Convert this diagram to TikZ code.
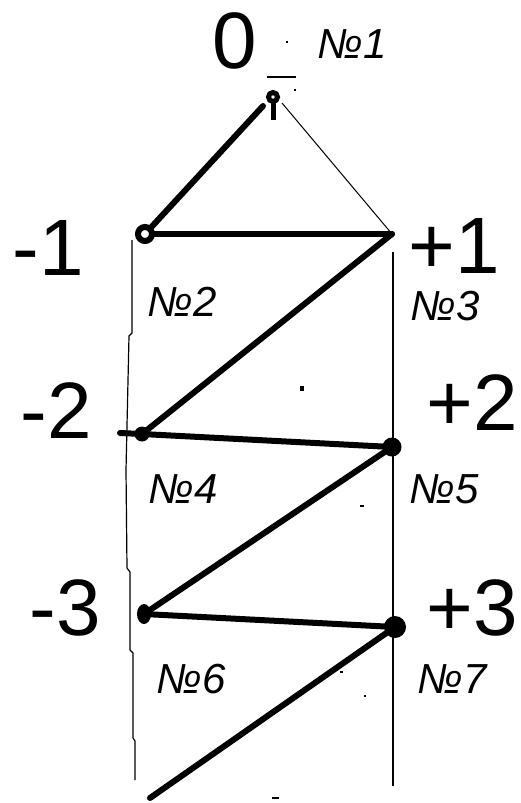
\documentclass[tikz,border=0pt]{standalone}
\usepackage{fontspec}
\setmainfont{Liberation Sans}
\usetikzlibrary{shapes.geometric}
\begin{document}
\begin{tikzpicture}[x=1pt,y=-1pt,
  big/.style={font=\fontsize{80}{80}\selectfont, inner sep=0pt, anchor=base},
  numlbl/.style={font=\fontsize{42}{42}\selectfont\itshape, inner sep=0pt, anchor=base},
  heavy/.style={line width=6pt, line cap=round, line join=round},
  thinline/.style={line width=1.2pt},
  dotmark/.style={circle, fill=black, inner sep=0pt, minimum size=#1},
  speck/.style={fill=black}
]
\useasboundingbox (0,0) rectangle (520,803);

% point markers
\coordinate (top) at (273,97);
\coordinate (topstem) at (273,120);
\node[circle, draw=black, line width=6pt, inner sep=0pt, minimum size=14pt] (m1) at (145,234) {};
\coordinate (p1) at (392,234);
\node[dotmark=15pt] (m2) at (142,434) {};
\node[dotmark=19pt] (p2) at (392,447) {};
\node[ellipse, fill=black, inner sep=0pt, minimum width=14pt, minimum height=20pt] (m3) at (144,614) {};
\node[dotmark=22pt] (p3) at (395,627) {};
\coordinate (bottom) at (150,798);

% top marker
\draw[line width=5pt] (top) circle (4.5);
\draw[line width=5pt] (273,102) -- (topstem);
\draw[line width=1.2pt] (267,77) -- (296,77);

% vertical thin lines
\draw[thinline] (132,240) -- (132,333) -- (129,336) -- (126,470) -- (127,568) -- (130,572) -- (130,650) -- (133,653) -- (133,738) -- (135,741) -- (135,780);
\draw[thinline] (393,252) -- (393,786);

% zigzag
\draw[heavy] (m1) -- (263,106);
\draw[line width=1pt] (282,103) -- (p1);
\draw[heavy] (m1) -- (p1);
\draw[heavy] (p1) -- (m2.center);
\draw[heavy] (120,433) -- (m2.center) -- (p2.center);
\draw[heavy] (p2.center) -- (m3.center);
\draw[heavy] (m3.center) -- (p3.center);
\draw[heavy] (p3.center) -- (bottom);

% level labels
\node[big] (l0) at (235,68) {0};
\node[big] (lm1) at (48,275) {-1};
\node[big] (lp1) at (454,273) {+1};
\node[big] (lm2) at (56,438) {-2};
\node[big] (lp2) at (472,430) {+2};
\node[big] (lm3) at (65,635) {-3};
\node[big] (lp3) at (472,635) {+3};

% number labels
\node[numlbl] (n1) at (352,58) {№1};
\node[numlbl] (n2) at (182,316) {№2};
\node[numlbl] (n3) at (445,320) {№3};
\node[numlbl] (n4) at (183,503) {№4};
\node[numlbl] (n5) at (444,503) {№5};
\node[numlbl] (n6) at (191,693) {№6};
\node[numlbl] (n7) at (452,693) {№7};

% specks
\fill[speck] (286,41) rectangle (288,43);
\fill[speck] (294,89) rectangle (296,91);
\fill[speck] (300,386) rectangle (304,391);
\fill[speck] (360,505) rectangle (364,507);
\fill[speck] (340,671) rectangle (343,673);
\fill[speck] (364,695) rectangle (366,697);
\fill[speck] (272,797) rectangle (279,799);
\end{tikzpicture}
\end{document}
